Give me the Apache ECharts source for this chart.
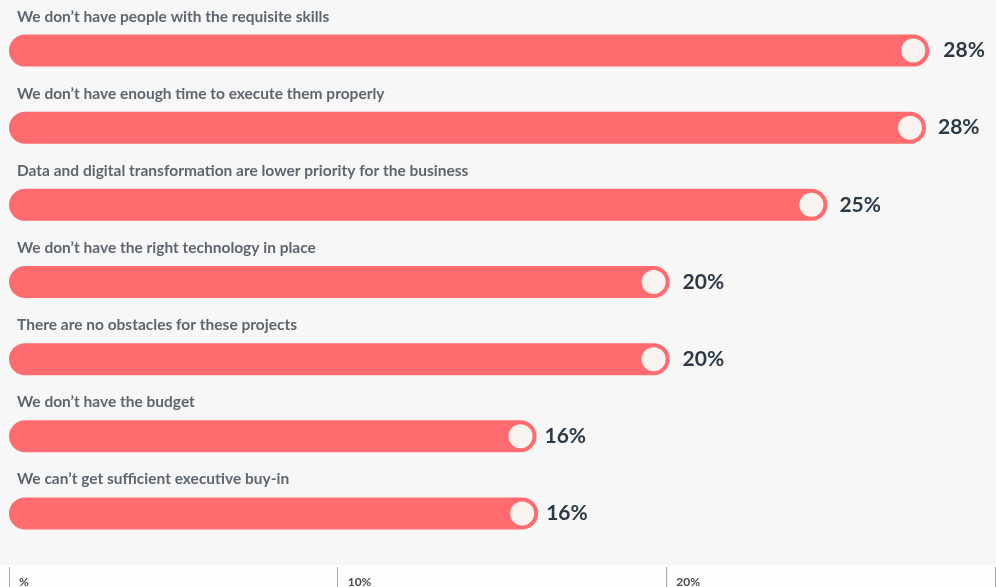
<!DOCTYPE html>
<html>
<head>
<meta charset="utf-8">
<script src="https://cdn.jsdelivr.net/npm/echarts@6/dist/echarts.min.js"></script>
<style>
html,body{margin:0;padding:0;background:#fefefe;}
#c{width:996px;height:587px;}
</style>
</head>
<body>
<div id="c"></div>
<script>
const categories = [
  "We don’t have people with the requisite skills",
  "We don’t have enough time to execute them properly",
  "Data and digital transformation are lower priority for the business",
  "We don’t have the right technology in place",
  "There are no obstacles for these projects",
  "We don’t have the budget",
  "We can’t get sufficient executive buy-in"
];
const values = [28.0, 27.9, 24.9, 20.1, 20.1, 16.05, 16.1];
const valueLabels = ["28%", "28%", "25%", "20%", "20%", "16%", "16%"];
const tickLabels = {0: "%", 10: "10%", 20: "20%", 30: ""};

// styling only: gap between bar end and its value label
const labelGaps = [14, 12, 12, 13, 13, 8, 8];

const chart = echarts.init(document.getElementById('c'), null, {renderer: 'canvas'});
const FONT = 'Lato';
chart.setOption({
  backgroundColor: '#fefefe',
  animation: false,
  graphic: [{
    type: 'rect', z: -10, silent: true,
    shape: {x: 0, y: 0, width: 996, height: 565},
    style: {fill: '#f7f7f7'}
  }],
  grid: [
    {left: 9, width: 986, top: 12, height: 540, outerBoundsMode: 'none', containLabel: false},
    {left: 9, width: 986, top: 567, height: 0, outerBoundsMode: 'none', containLabel: false}
  ],
  xAxis: [
    {gridIndex: 0, type: 'value', min: 0, max: 30, interval: 10, show: false},
    {gridIndex: 1, type: 'value', min: 0, max: 30, interval: 10,
     axisLine: {show: false},
     splitLine: {show: false},
     axisTick: {show: true, length: 20, lineStyle: {color: '#a4a7bb', width: 1}},
     axisLabel: {
       show: true, margin: 9, align: 'left', verticalAlign: 'top',
       padding: [0, 0, 0, 10],
       fontFamily: FONT, fontSize: 12, fontWeight: 'bold', color: '#4a4a4a',
       formatter: v => tickLabels[v] || ''
     }}
  ],
  yAxis: [
    {gridIndex: 0, type: 'category', data: categories, inverse: true, show: false},
    {gridIndex: 1, type: 'value', show: false}
  ],
  series: [
    {
      type: 'bar', xAxisIndex: 0, yAxisIndex: 0,
      data: values.map((v, i) => ({value: v, label: {distance: labelGaps[i]}})),
      barWidth: 32,
      itemStyle: {color: '#ff6b6e', borderRadius: 16},
      label: {
        show: true, position: 'right', distance: 13,
        fontFamily: FONT, fontSize: 21, fontWeight: 'bold', color: '#2c3a47',
        formatter: p => valueLabels[p.dataIndex]
      }
    },
    {
      type: 'scatter', xAxisIndex: 0, yAxisIndex: 0,
      data: values, symbol: 'circle', symbolSize: 24, symbolOffset: [-16, 0],
      itemStyle: {color: '#f8f3ef', opacity: 1}, z: 5, silent: true
    },
    {
      type: 'scatter', xAxisIndex: 0, yAxisIndex: 0,
      data: categories.map((c, i) => [0, i]),
      symbolSize: 0, silent: true, clip: false,
      label: {
        show: true, position: 'right', distance: 8, offset: [0, -34],
        fontFamily: FONT, fontSize: 15.5, fontWeight: 'bold', color: '#36414c',
        formatter: p => categories[p.dataIndex]
      }
    }
  ]
});
</script>
</body>
</html>
